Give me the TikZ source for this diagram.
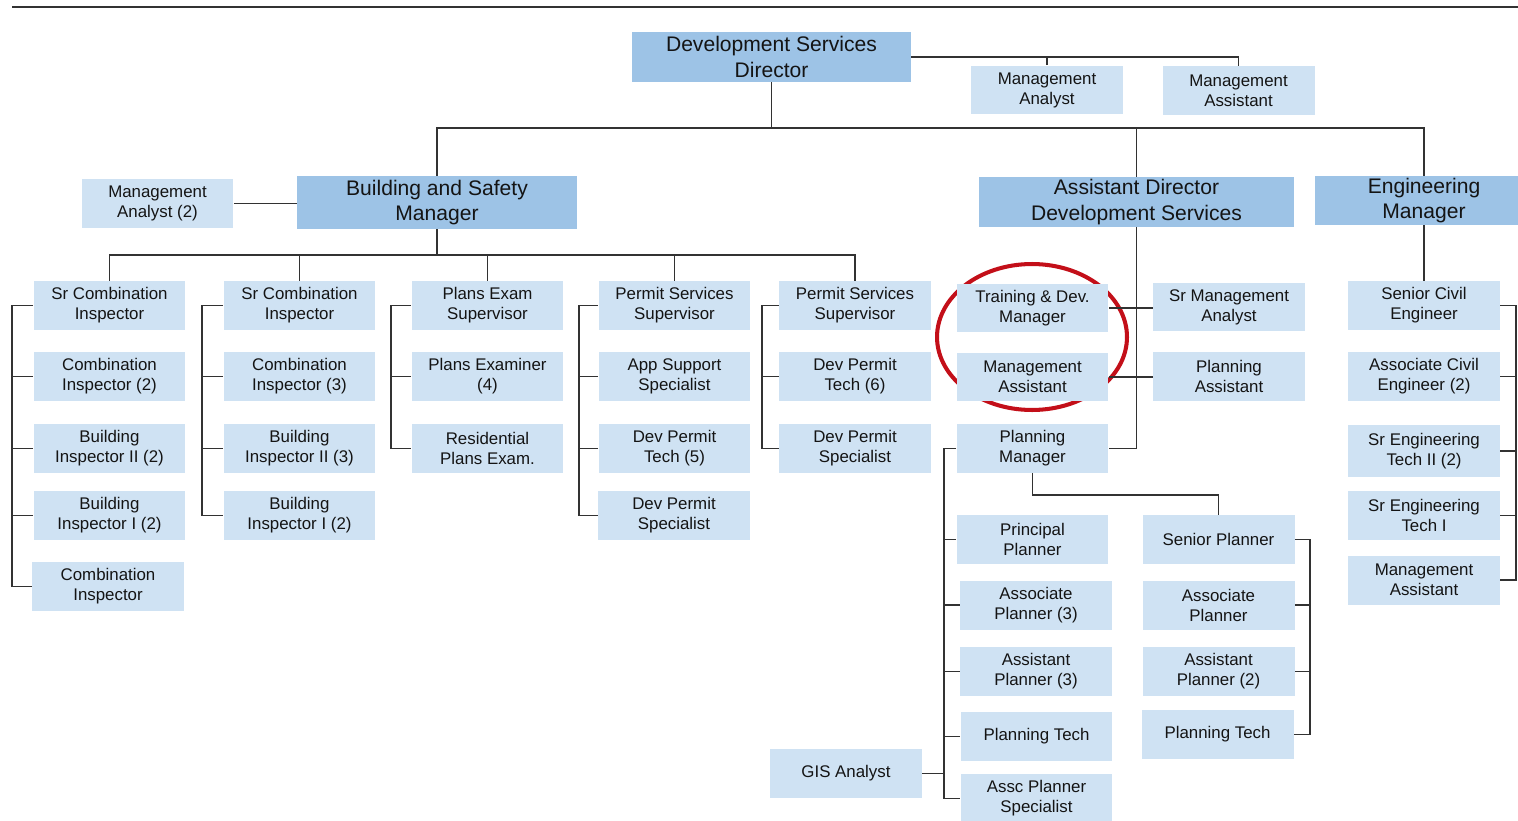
\documentclass[tikz,border=0pt]{standalone}
\usepackage{fontspec}
\setmainfont{Liberation Sans}
\usepackage{xcolor}
\usepackage{tikz}
\usetikzlibrary{shapes.geometric, positioning, calc}
\definecolor{boxL}{RGB}{207,226,243}
\definecolor{boxD}{RGB}{157,195,230}
\definecolor{wire}{RGB}{50,50,50}
\definecolor{ink}{RGB}{20,20,20}
\definecolor{ringR}{RGB}{195,15,25}
\tikzset{
  block/.style  = {rectangle, fill=boxL, text=ink, align=center, inner sep=0pt,
                   minimum width=3.04cm, minimum height=0.98cm,
                   font=\fontsize{9.6}{11.4}\selectfont},
  blockB/.style = {block, fill=boxD, font=\fontsize{12}{14.6}\selectfont},
  link/.style   = {draw=wire, line width=1.1pt},
  ring/.style   = {draw=ringR, line width=2.3pt, ellipse},
}
\begin{document}
\begin{tikzpicture}[x=0.02cm, y=-0.02cm]
    \useasboundingbox (0,0) rectangle (1518,821);
    \draw[wire, line width=1.2pt] (12,7) -- (1518,7);

    % highlight behind the two boxes
    \node[ring, minimum width=3.8cm, minimum height=2.92cm] (focus) at (1032,337) {};

    % top level
    \node[blockB, minimum width=5.58cm, minimum height=1.0cm] (dir) at (771.5,57)
      {Development Services\\Director};
    \node[block] (mAn) at (1047,90)    {Management\\Analyst};
    \node[block] (mAs) at (1238.5,90.5) {Management\\Assistant};

    \node[blockB, minimum width=5.6cm, minimum height=1.06cm] (bsm) at (437,202.5)
      {Building and Safety\\Manager};
    \node[block] (bsAn) at (157.5,203.5) {Management\\Analyst (2)};
    \node[blockB, minimum width=6.3cm, minimum height=1.0cm] (ads) at (1136.5,202)
      {Assistant Director\\Development Services};
    \node[blockB, minimum width=4.36cm] (eng) at (1424,200.5) {Engineering\\Manager};

    % building and safety columns
    \node[block] (c1a) at (109.5,305.5) {Sr Combination\\Inspector};
    \node[block] (c1b) at (109.5,376.5) {Combination\\Inspector (2)};
    \node[block] (c1c) at (109.5,448.5) {Building\\Inspector II (2)};
    \node[block] (c1d) at (109.5,515.5) {Building\\Inspector I (2)};
    \node[block] (c1e) at (108,586.5)   {Combination\\Inspector};

    \node[block] (c2a) at (299.5,305.5) {Sr Combination\\Inspector};
    \node[block] (c2b) at (299.5,376.5) {Combination\\Inspector (3)};
    \node[block] (c2c) at (299.5,448.5) {Building\\Inspector II (3)};
    \node[block] (c2d) at (299.5,515.5) {Building\\Inspector I (2)};

    \node[block] (c3a) at (487.5,305.5) {Plans Exam\\Supervisor};
    \node[block] (c3b) at (487.5,376.5) {Plans Examiner\\(4)};
    \node[block] (c3c) at (487.5,448.5) {Residential\\Plans Exam.};

    \node[block] (c4a) at (674.5,305.5) {Permit Services\\Supervisor};
    \node[block] (c4b) at (674.5,376.5) {App Support\\Specialist};
    \node[block] (c4c) at (674.5,448.5) {Dev Permit\\Tech (5)};
    \node[block] (c4d) at (674,515.5)   {Dev Permit\\Specialist};

    \node[block] (c5a) at (855,305.5) {Permit Services\\Supervisor};
    \node[block] (c5b) at (855,376.5) {Dev Permit\\Tech (6)};
    \node[block] (c5c) at (855,448.5) {Dev Permit\\Specialist};

    % assistant director branch
    \node[block] (tdm)  at (1032.5,308)   {Training \& Dev.\\Manager};
    \node[block] (adMa) at (1032.5,377)   {Management\\Assistant};
    \node[block] (pm)   at (1032.5,448.5) {Planning\\Manager};
    \node[block] (sma)  at (1229,307)     {Sr Management\\Analyst};
    \node[block] (pa)   at (1229,376.5)   {Planning\\Assistant};

    \node[block] (pp)  at (1032.5,539.5) {Principal\\Planner};
    \node[block] (ap3) at (1036,605)     {Associate\\Planner (3)};
    \node[block] (as3) at (1036,671.5)   {Assistant\\Planner (3)};
    \node[block] (pt1) at (1036.5,736.5) {Planning Tech};
    \node[block] (aps) at (1036.5,798.5) {Assc Planner\\Specialist};
    \node[block] (gis) at (846,773.5)    {GIS Analyst};

    \node[block] (sp)  at (1218.5,539.5) {Senior Planner};
    \node[block] (ap1) at (1218.5,605)   {Associate\\Planner};
    \node[block] (as2) at (1218.5,671.5) {Assistant\\Planner (2)};
    \node[block] (pt2) at (1217.5,734.5) {Planning Tech};

    % engineering branch
    \node[block] (sce)  at (1424,305.5) {Senior Civil\\Engineer};
    \node[block] (ace)  at (1424,376.5) {Associate Civil\\Engineer (2)};
    \node[block, minimum height=1.06cm] (set2) at (1424,451) {Sr Engineering\\Tech II (2)};
    \node[block] (set1) at (1424,515.5) {Sr Engineering\\Tech I};
    \node[block] (ema)  at (1424,580)   {Management\\Assistant};

    % connectors
    \coordinate (bus1) at (771.5,128);
    \coordinate (bus2) at (437,255);
    \coordinate (pmL)  at (944,448.5);

    \draw[link] (mAn.north) |- (dir.east);
    \draw[link] (mAs.north) |- (dir.east);
    \draw[link] (dir.south) -- (bus1);
    \draw[link] (bsm.north) |- (bus1) -| (eng.north);
    \draw[link] (ads.north) -- (ads.north |- bus1);
    \draw[link] (bsAn.east) -- (bsAn.east -| bsm.west);

    \draw[link] (bsm.south) -- (bus2);
    \draw[link] (c1a.north) |- (bus2) -| (c5a.north);
    \foreach \top in {c2a, c3a, c4a}
      \draw[link] (\top.north) -- (\top.north |- bus2);

    \draw[link] (c1a.west) -- ++(-21,0) |- (c1e.west);
    \foreach \n in {b, c, d} \draw[link] (c1\n.west) -- ++(-21,0);
    \draw[link] (c2a.west) -- ++(-21,0) |- (c2d.west);
    \foreach \n in {b, c} \draw[link] (c2\n.west) -- ++(-21,0);
    \draw[link] (c3a.west) -- ++(-20,0) |- (c3c.west);
    \draw[link] (c3b.west) -- ++(-20,0);
    \draw[link] (c4a.west) -- ++(-19,0) |- (c4d.west);
    \foreach \n in {b, c} \draw[link] (c4\n.west) -- ++(-19,0);
    \draw[link] (c5a.west) -- ++(-17,0) |- (c5c.west);
    \draw[link] (c5b.west) -- ++(-17,0);

    \draw[link] (ads.south) |- (pm.east);
    \draw[link] (tdm.east) -- (tdm.east -| sma.west);
    \draw[link] (adMa.east) -- (adMa.east -| pa.west);

    \draw[link] (pm.south) -- ++(0,22) -| (sp.north);
    \draw[link] (pm.west) -- (pmL) |- (aps.west);
    \foreach \n in {pp, ap3, as3, pt1} \draw[link] (\n.west) -- (\n.west -| pmL);
    \draw[link] (gis.east) -- (gis.east -| pmL);

    \draw[link] (sp.east) -- ++(15,0) |- (pt2.east);
    \foreach \n in {ap1, as2} \draw[link] (\n.east) -- ++(15,0);

    \draw[link] (eng.south) -- (sce.north);
    \draw[link] (sce.east) -- ++(16,0) |- (ema.east);
    \foreach \n in {ace, set2, set1} \draw[link] (\n.east) -- ++(16,0);

  \end{tikzpicture}
\end{document}
